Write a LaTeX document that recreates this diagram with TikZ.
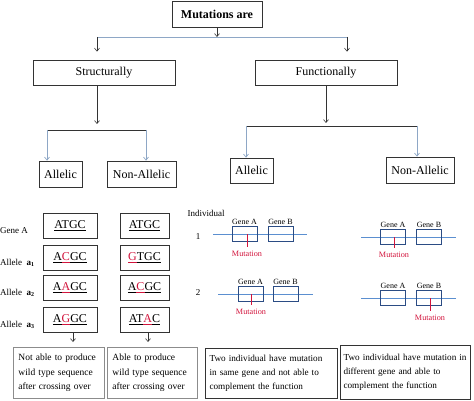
\documentclass[tikz,border=0pt]{standalone}
\usepackage{fontspec}
\setmainfont{Liberation Serif}
\usetikzlibrary{arrows.meta}

\definecolor{linkblue}{HTML}{8EA7C6}
\definecolor{chromblue}{HTML}{5B8FD0}
\definecolor{genebox}{HTML}{2B4C84}
\definecolor{mutred}{HTML}{D2143C}

\newcommand{\mutbase}[1]{\textcolor{mutred}{\underline{#1}}}

\tikzset{
  catbox/.style={draw=black!80, line width=0.8pt, inner sep=0pt, minimum height=25pt, font=\fontsize{12}{14}\selectfont},
  seqbox/.style={draw=black!80, line width=0.8pt, inner sep=0pt, minimum height=25pt, font=\fontsize{12}{14}\selectfont},
  rowlbl/.style={anchor=west, inner sep=0pt, font=\fontsize{9}{11}\selectfont},
  notebox/.style={anchor=north west, align=left, inner xsep=5pt, inner ysep=0pt, font=\fontsize{9.5}{14.5}\selectfont},
  darkarr/.style={->, draw=black!80, line width=0.6pt},
  bluearr/.style={->, draw=linkblue, line width=0.7pt},
  chrom/.style={draw=chromblue, line width=0.8pt},
  gene/.style={draw=genebox, line width=1pt, inner sep=0pt, minimum width=25pt, minimum height=15pt},
  genelbl/.style={inner sep=1.5pt, font=\fontsize{8}{9}\selectfont},
  mutlbl/.style={anchor=north, inner sep=1pt, yshift=-3pt, text=mutred, font=\fontsize{8.2}{9}\selectfont}
}

\begin{document}
\begin{tikzpicture}[x=1pt, y=-1pt, >={Straight Barb[length=3pt,width=5pt]}]
  \useasboundingbox (0,0) rectangle (474,401);

  % Top of the tree
  \node[catbox, font=\bfseries\fontsize{12}{14}\selectfont, minimum width=90pt, minimum height=26pt] (mut) at (217,14) {Mutations are};
  \node[catbox, minimum width=142pt] (struc) at (104,72.5) {Structurally};
  \node[catbox, minimum width=142pt] (func) at (326,72.5) {Functionally};

  \coordinate (split) at (217,37);
  \coordinate (sdrop) at (97,37);
  \coordinate (fdrop) at (347,37);
  \draw[darkarr] (mut.south) -- (split);
  \draw[linkblue, line width=0.7pt] (sdrop) -- (fdrop);
  \draw[darkarr] (sdrop) -- ([yshift=8pt]struc.north -| sdrop);
  \draw[darkarr] (fdrop) -- ([yshift=8pt]func.north -| fdrop);

  % Second level
  \node[catbox, minimum width=43pt, minimum height=26pt] (sall) at (60.5,174) {Allelic};
  \node[catbox, minimum width=69pt, minimum height=26pt] (snon) at (141.5,174) {Non-Allelic};
  \node[catbox, minimum width=43pt] (fall) at (251.5,170.5) {Allelic};
  \node[catbox, minimum width=68pt, minimum height=26pt] (fnon) at (420,170) {Non-Allelic};

  \coordinate (sbar) at (97,130);
  \coordinate (sl) at (47,130);
  \coordinate (sr) at (146,130);
  \draw[darkarr] (struc.south -| sbar) -- ([yshift=6pt]sbar);
  \draw[black!80, line width=0.7pt] (sl) -- (sr);
  \draw[bluearr] (sl) -- (sall.north -| sl);
  \draw[bluearr] (sr) -- (snon.north -| sr);

  \coordinate (fbar) at (326,126);
  \coordinate (fl) at (246,126);
  \coordinate (fr) at (417,126);
  \draw[darkarr] (func.south) -- ([yshift=3pt]fbar);
  \draw[black!80, line width=0.7pt] (fl) -- (fr);
  \draw[bluearr] (fl) -- (fall.north -| fl);
  \draw[bluearr] (fr) -- (fnon.north -| fr);

  % Sequences
  \foreach \r/\y/\lbl/\ls/\rs in {
    0/226/{Gene A}/{\underline{ATGC}}/{\underline{ATGC}},
    1/257.5/{Allele~~\textbf{a\textsubscript{1}}}/{\underline{A}\mutbase{C}\underline{GC}}/{\mutbase{G}\underline{TGC}},
    2/288/{Allele~~\textbf{a\textsubscript{2}}}/{\underline{A}\mutbase{A}\underline{GC}}/{\underline{A}\mutbase{C}\underline{GC}},
    3/319.5/{Allele~~\textbf{a\textsubscript{3}}}/{\underline{A}\mutbase{G}\underline{GC}}/{\underline{AT}\mutbase{A}\underline{C}}}
  {
    \node[rowlbl] (lbl\r) at (0,\y+5) {\lbl};
    \node[seqbox, minimum width=54pt] (sa\r) at (70,\y) {\ls};
    \node[seqbox, minimum width=49pt] (sn\r) at (144.5,\y) {\rs};
  }

  % Notes
  \node[notebox, draw=black!45, line width=0.8pt, text width=81pt, minimum height=51pt] (note1) at (13,347)
    {Not able to produce\\wild type sequence\\after crossing over};
  \node[notebox, draw=black!45, line width=0.8pt, text width=80pt, minimum height=51pt] (note2) at (107,347)
    {Able to produce\\wild type sequence\\after crossing over};
  \node[notebox, draw=black!80, line width=1.1pt, text width=124pt, inner xsep=4pt, minimum height=50pt, font=\fontsize{9.2}{14}\selectfont] (note3) at (205,348)
    {Two individual have mutation\\in same gene and not able to\\complement the function};
  \node[notebox, draw=black!80, line width=1.1pt, text width=124pt, inner xsep=3pt, minimum height=54pt, font=\fontsize{9.2}{14}\selectfont] (note4) at (340,345)
    {Two individual have mutation in\\different gene and able to\\complement the function};

  \coordinate (la) at ([xshift=3pt]sa3.south);
  \coordinate (ra) at ([xshift=3.5pt]sn3.south);
  \draw[darkarr] (la) -- ([yshift=5pt]note1.north -| la);
  \draw[darkarr] (ra) -- ([yshift=5pt]note2.north -| ra);

  % Individuals
  \node[font=\fontsize{9}{11}\selectfont] (indiv) at (206,213) {Individual};
  \node[font=\fontsize{9}{11}\selectfont] (ind1) at (198,237) {1};
  \node[font=\fontsize{9}{11}\selectfont] (ind2) at (198,293) {2};

  \foreach \d/\lx/\rx/\y/\ax/\bx/\mx/\my in {
    1/213/307/234/244.5/280.5/247/247,
    2/218/313/294/250.5/285.5/251/305,
    3/361/456/237/393/429/394/248,
    4/361/456/298/393/429/430/311}
  {
    \draw[chrom] (\lx,\y) -- (\rx,\y);
    \node[gene, label={[genelbl]above:Gene A}] (ga\d) at (\ax,\y) {};
    \node[gene, label={[genelbl]above:Gene B}] (gb\d) at (\bx,\y) {};
    \draw[mutred, line width=0.9pt] (\mx,\y) -- (\mx,\my) node[mutlbl] (mu\d) {Mutation};
  }
\end{tikzpicture}
\end{document}
